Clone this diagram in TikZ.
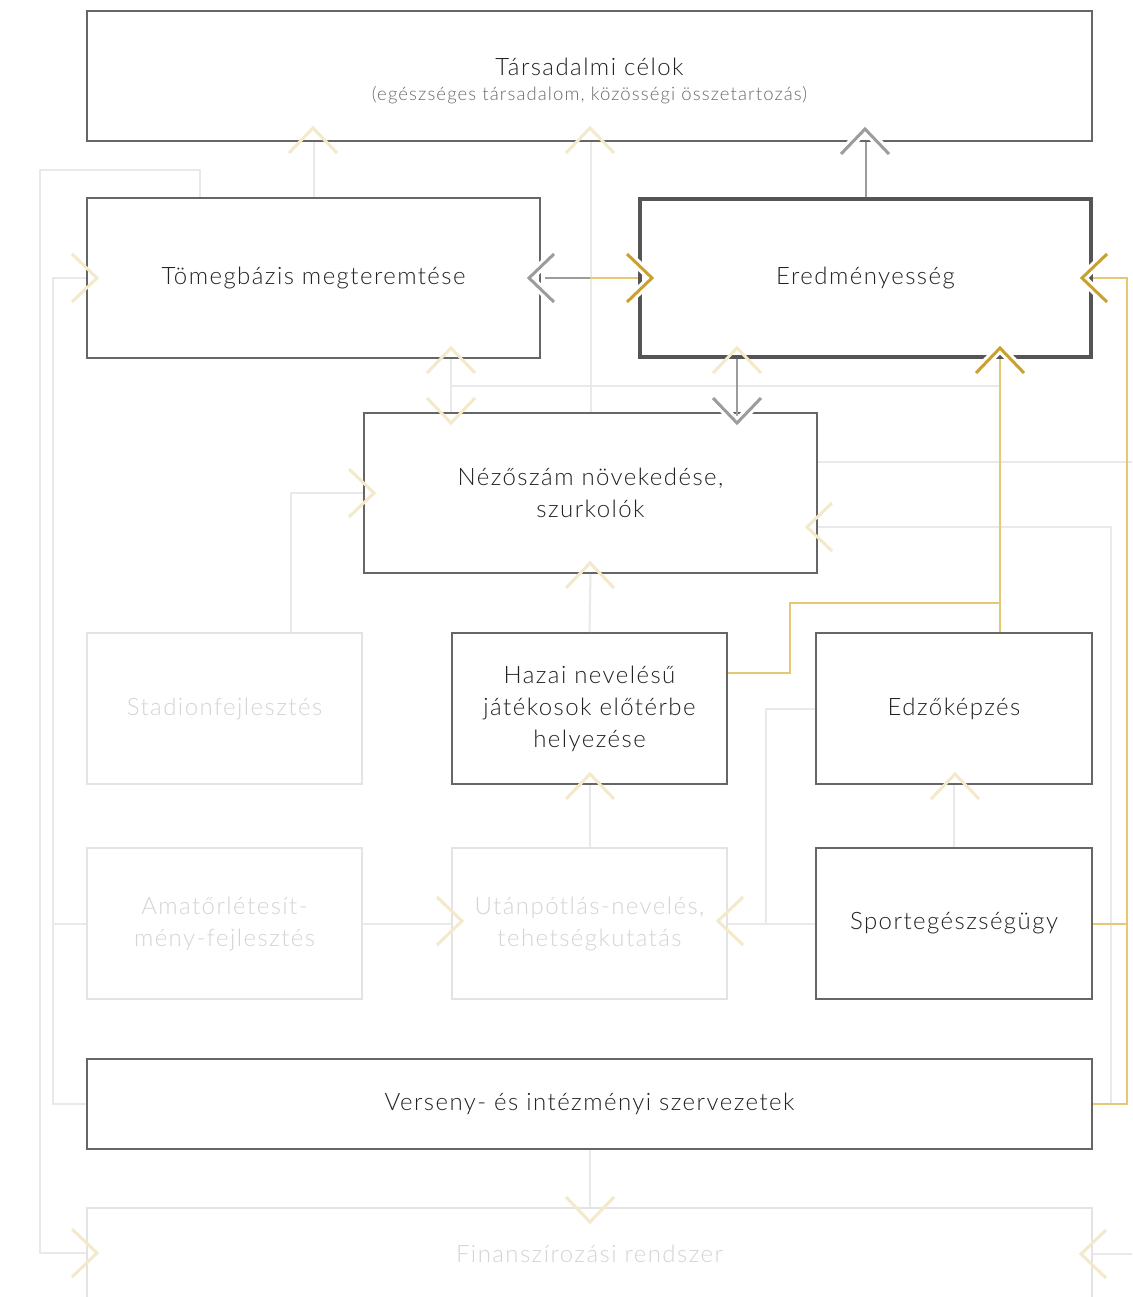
\documentclass[tikz,border=0pt]{standalone}
\usepackage{fontspec}
\setmainfont{Lato Light}[LetterSpace=6]
\usetikzlibrary{calc}
\definecolor{boxC}{HTML}{666666}
\definecolor{darkC}{HTML}{555555}
\definecolor{faintC}{HTML}{E3E3E3}
\definecolor{faintLineC}{HTML}{E9E9E9}
\definecolor{faintTxtC}{HTML}{D4D4D4}
\definecolor{goldLineC}{HTML}{E6C873}
\definecolor{goldDarkC}{HTML}{C9A12F}
\definecolor{goldFaintC}{HTML}{F3E9CB}
\definecolor{grayC}{HTML}{9C9C9C}
\definecolor{txtC}{HTML}{222222}
\definecolor{subC}{HTML}{6A6A6A}
\newcommand\chU[2]{\draw[#1] ($(#2)+(-24,25)$)--(#2)--($(#2)+(24,25)$);}
\newcommand\chD[2]{\draw[#1] ($(#2)+(-24,-25)$)--(#2)--($(#2)+(24,-25)$);}
\newcommand\chL[2]{\draw[#1] ($(#2)+(25,-24)$)--(#2)--($(#2)+(25,24)$);}
\newcommand\chR[2]{\draw[#1] ($(#2)+(-25,-24)$)--(#2)--($(#2)+(-25,24)$);}
\tikzset{
 box/.style={draw=boxC, line width=2pt, fill=white, inner sep=0pt, align=center, text=txtC, font=\fontsize{24}{32}\selectfont},
 strongbox/.style={box, draw=darkC, line width=4pt},
 faintbox/.style={box, draw=faintC, text=faintTxtC},
 lline/.style={draw=faintLineC, line width=2pt},
 gline/.style={draw=grayC, line width=2pt},
 gdline/.style={draw=goldLineC, line width=2pt},
 chevfaint/.style={draw=goldFaintC, line width=3pt},
 chevgray/.style={draw=grayC, line width=3pt, preaction={draw=white, line width=9pt}},
 chevgold/.style={draw=goldDarkC, line width=3pt, preaction={draw=white, line width=9pt}},
}
\begin{document}
\begin{tikzpicture}[x=1pt,y=-1pt]
\useasboundingbox (0,0) rectangle (1132,1297);
\clip (0,0) rectangle (1132,1297);
\fill[white] (0,0) rectangle (1132,1297);
% helper coordinates
\coordinate (c40) at (40,0);
\coordinate (c53) at (53,0);
\coordinate (c200) at (200,0);
\coordinate (c291) at (291,0);
\coordinate (c451) at (451,0);
\coordinate (c737) at (737,0);
\coordinate (c766) at (766,0);
\coordinate (c790) at (790,0);
\coordinate (c1000) at (1000,0);
\coordinate (c1111) at (1111,0);
\coordinate (c1127) at (1127,0);
\coordinate (c1140) at (1140,0);
\coordinate (r170) at (0,170);
\coordinate (r386) at (0,386);
\coordinate (r462) at (0,462);
\coordinate (r527) at (0,527);
\coordinate (r603) at (0,603);
\coordinate (r673) at (0,673);
\coordinate (r1253) at (0,1253);
% boxes
\node[box, minimum width=1005pt, minimum height=130pt] (T) at (589.5,76) {};
\node[align=center, text=txtC, font=\fontsize{24}{28}\selectfont] (Ttxt) at (589.5,81) {Társadalmi célok\\[-3pt]{\fontsize{18.5}{20}\selectfont\color{subC}(egészséges társadalom, közösségi összetartozás)}};
\node[box, minimum width=453pt, minimum height=160pt] (Tom) at (313.5,278) {Tömegbázis megteremtése};
\node[strongbox, minimum width=451pt, minimum height=158pt] (E) at (865.5,278) {Eredményesség};
\node[box, minimum width=453pt, minimum height=160pt] (N) at (590.5,493) {Nézőszám növekedése,\\szurkolók};
\node[faintbox, minimum width=275pt, minimum height=151pt] (S) at (224.5,708.5) {Stadionfejlesztés};
\node[box, minimum width=275pt, minimum height=151pt] (H) at (589.5,708.5) {Hazai nevelésű\\játékosok előtérbe\\helyezése};
\node[box, minimum width=276pt, minimum height=151pt] (Ed) at (954,708.5) {Edzőképzés};
\node[faintbox, minimum width=275pt, minimum height=151pt] (A) at (224.5,923.5) {Amatőrlétesít-\\mény-fejlesztés};
\node[faintbox, minimum width=275pt, minimum height=151pt] (U) at (589.5,923.5) {Utánpótlás-nevelés,\\tehetségkutatás};
\node[box, minimum width=276pt, minimum height=151pt] (Sp) at (954,923.5) {Sportegészségügy};
\node[box, minimum width=1005pt, minimum height=90pt] (V) at (589.5,1104) {Verseny- és intézményi szervezetek};
\node[faintbox, minimum width=1005pt, minimum height=92pt] (F) at (589.5,1254) {Finanszírozási rendszer};
% faint connectors
\draw[lline] (Tom.north) -- (Tom.north |- T.south);
\draw[lline] (N.north) -- (N.north |- T.south);
\draw[lline] (Tom.south -| c451) -- (N.north -| c451);
\draw[lline] (c451 |- r386) -- (c1000 |- r386);
\draw[lline] (c1111 |- V.east) -- (c1111 |- r527) -- (N.east |- r527);
\draw[lline] (N.east |- r462) -- (c1140 |- r462);
\draw[lline] (Tom.north -| c200) |- (c40 |- r170) -- (c40 |- r1253) -- (F.west |- r1253);
\draw[lline] (Tom.west) -- (c53 |- Tom.west) -- (c53 |- V.west) -- (V.west);
\draw[lline] (A.west) -- (c53 |- A.west);
\draw[lline] (S.north -| c291) |- (N.west);
\draw[lline] (H.north) -- (N.south);
\draw[lline] (U.north) -- (H.south);
\draw[lline] (A.east) -- (U.west);
\draw[lline] (Sp.west) -- (U.east);
\draw[lline] (Ed.west) -| (c766 |- U.east);
\draw[lline] (Sp.north) -- (Ed.south);
\draw[lline] (V.south) -- (F.north);
\draw[lline] (F.east) -- (c1140 |- F.east);
% gray connectors
\coordinate (TEm) at ($(Tom.east)!0.5!(E.west)$);
\draw[gline] ($(Tom.east)+(4,0)$) -- (TEm);
\draw[gline] (E.north) -- (E.north |- T.south);
\draw[gline] (E.south -| c737) -- ($(N.north -| c737)+(0,4)$);
% gold connectors
\draw[gdline] (TEm) -- (E.west);
\draw[gdline] (Ed.north -| c1000) -- (E.south -| c1000);
\draw[gdline] (H.east |- r673) -| (c790 |- r603) -- (c1000 |- r603);
\draw[gdline] (E.east) -- (c1127 |- E.east) -- (c1127 |- V.east) -- (V.east);
\draw[gdline] (Sp.east) -- (c1127 |- Sp.east);
% faint chevrons
\chU{chevfaint}{313,128}
\chU{chevfaint}{590,128}
\chU{chevfaint}{451,348}
\chD{chevfaint}{451,423}
\chU{chevfaint}{737,348}
\chR{chevfaint}{97,278}
\chR{chevfaint}{374,493}
\chL{chevfaint}{807,527}
\chU{chevfaint}{590,563}
\chU{chevfaint}{590,774}
\chR{chevfaint}{462,921}
\chL{chevfaint}{718,921}
\chU{chevfaint}{955,774}
\chD{chevfaint}{590,1222}
\chR{chevfaint}{97,1253}
\chL{chevfaint}{1081,1254}
% gray chevrons
\chL{chevgray}{529,278}
\chU{chevgray}{865,129}
\chD{chevgray}{737,423}
% gold chevrons
\chR{chevgold}{652,278}
\chU{chevgold}{1000,348}
\chL{chevgold}{1082,278}
\end{tikzpicture}
\end{document}
